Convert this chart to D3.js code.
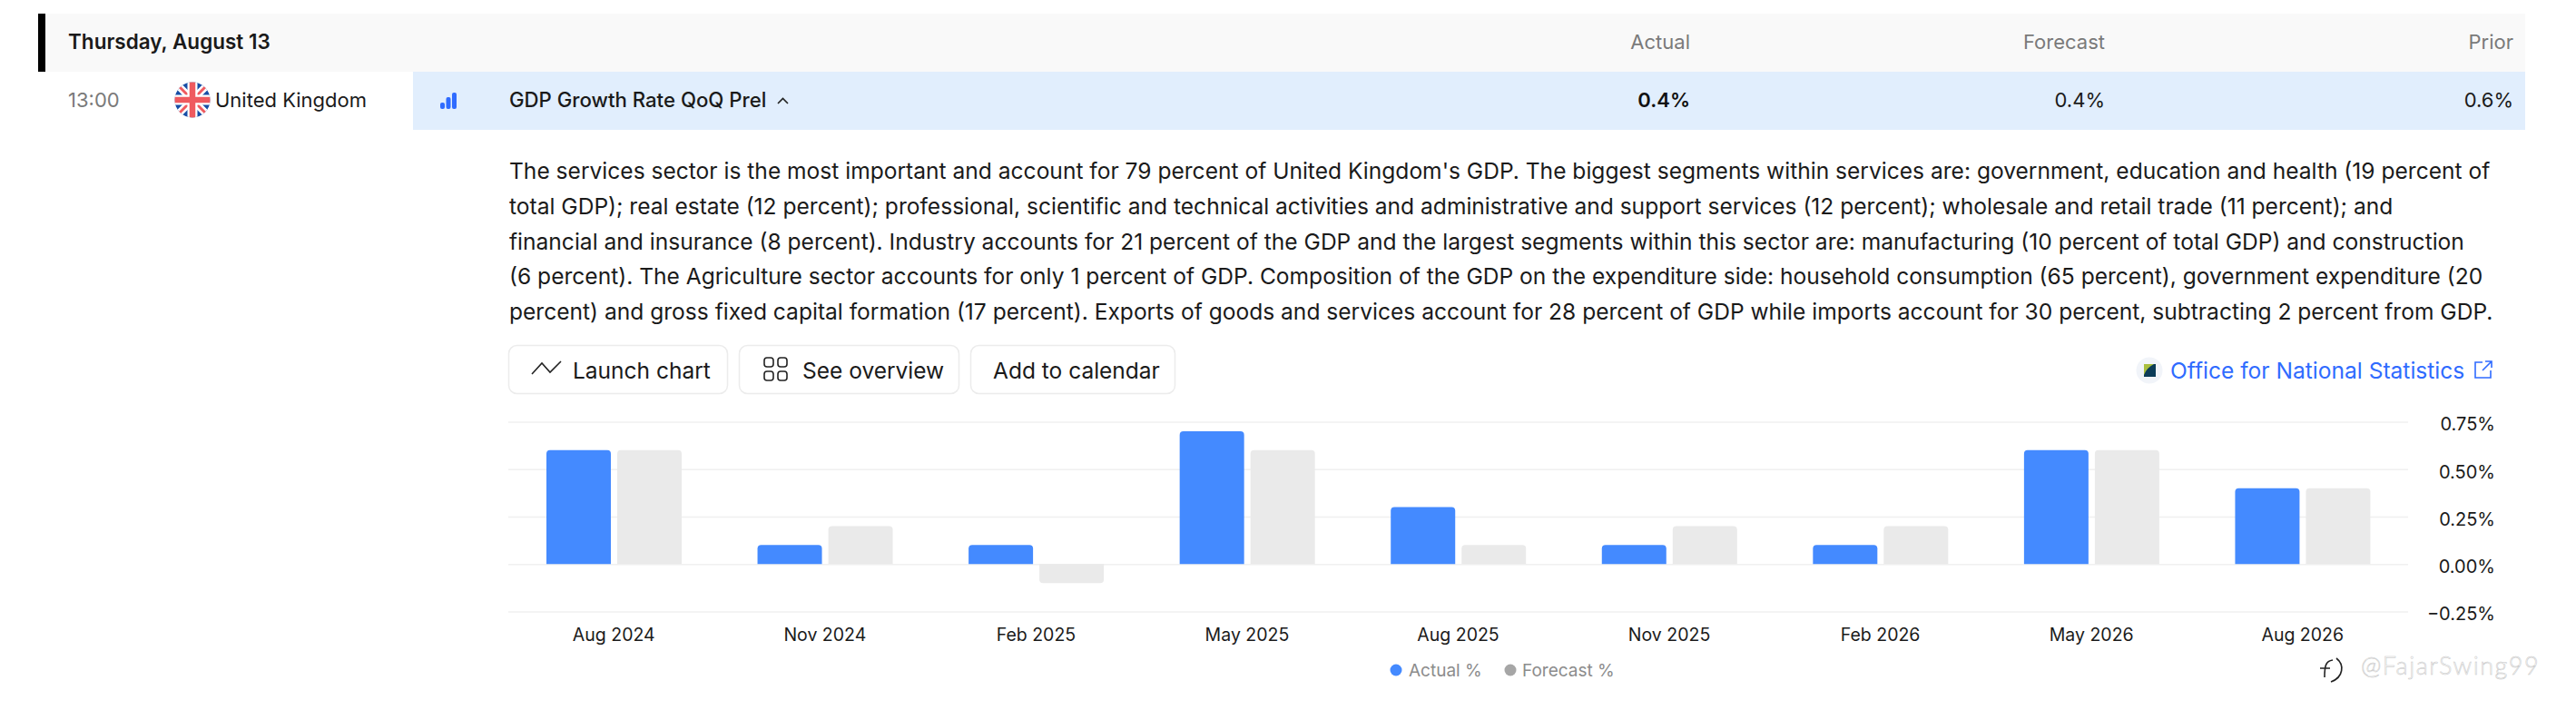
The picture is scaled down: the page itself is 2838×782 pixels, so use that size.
<!DOCTYPE html>
<html>
<head>
<meta charset="utf-8">
<script src="https://cdn.jsdelivr.net/npm/d3@7"></script>
<style>
    html, body { margin: 0; padding: 0; background: #fff; overflow: hidden; }
    text { font-family: Inter, "Noto Sans", sans-serif; }
</style>
</head>
<body>
<div id="calendar"></div>
<script>
// Chart data
var periods = ["Aug 2024", "Nov 2024", "Feb 2025", "May 2025", "Aug 2025", "Nov 2025", "Feb 2026", "May 2026", "Aug 2026"];
var actual = [0.6, 0.1, 0.1, 0.7, 0.3, 0.1, 0.1, 0.6, 0.4];
var forecast = [0.6, 0.2, -0.1, 0.6, 0.1, 0.2, 0.2, 0.6, 0.4];
var yTicks = [-0.25, 0, 0.25, 0.5, 0.75];
var seriesNames = ["Actual %", "Forecast %"];

// Page text
var description = [
    "The services sector is the most important and account for 79 percent of United Kingdom's GDP. The biggest segments within services are: government, education and health (19 percent of",
    "total GDP); real estate (12 percent); professional, scientific and technical activities and administrative and support services (12 percent); wholesale and retail trade (11 percent); and",
    "financial and insurance (8 percent). Industry accounts for 21 percent of the GDP and the largest segments within this sector are: manufacturing (10 percent of total GDP) and construction",
    "(6 percent). The Agriculture sector accounts for only 1 percent of GDP. Composition of the GDP on the expenditure side: household consumption (65 percent), government expenditure (20",
    "percent) and gross fixed capital formation (17 percent). Exports of goods and services account for 28 percent of GDP while imports account for 30 percent, subtracting 2 percent from GDP."
];

var blue = "#448aff";
var grey = "#eaeaea";
var link = "#2f6bff";

var svg = d3.select("#calendar")
    .append("svg")
    .attr("width", 2838)
    .attr("height", 782)
    .style("display", "block");

function label(x, y, str, size, fill, anchor, weight) {
    return svg.append("text")
        .attr("x", x)
        .attr("y", y)
        .attr("text-anchor", anchor || "start")
        .style("font-size", size + "px")
        .style("font-weight", weight || 400)
        .style("fill", fill)
        .text(str);
}

// Header band and selected row
svg.append("rect").attr("x", 42).attr("y", 15).attr("width", 2740).attr("height", 64).attr("fill", "#f9f9f9");
svg.append("rect").attr("x", 42).attr("y", 15).attr("width", 8).attr("height", 64).attr("fill", "#000");
svg.append("rect").attr("x", 455).attr("y", 79).attr("width", 2327).attr("height", 64).attr("fill", "#e1eefd");

label(75, 54, "Thursday, August 13", 22.5, "#1a1a1a", "start", 600);
label(1862, 54, "Actual", 22, "#7a7a7a", "end");
label(2319, 54, "Forecast", 22, "#7a7a7a", "end");
label(2769, 54, "Prior", 22, "#7a7a7a", "end");

label(75, 118, "13:00", 22, "#7a7a7a");
label(237, 118, "United Kingdom", 22, "#1a1a1a");
label(561, 118, "GDP Growth Rate QoQ Prel", 22.2, "#1a1a1a", "start", 500);
label(1862, 118, "0.4%", 22, "#111", "end", 600);
label(2319, 118, "0.4%", 22, "#1a1a1a", "end");
label(2769, 118, "0.6%", 22, "#1a1a1a", "end");

// Flag
var clip = svg.append("clipPath").attr("id", "flagClip");
clip.append("circle").attr("cx", 212).attr("cy", 110).attr("r", 19.5);
var flag = svg.append("g").attr("clip-path", "url(#flagClip)");
flag.append("rect").attr("x", 192).attr("y", 90).attr("width", 40).attr("height", 40).attr("fill", "#174ea6");
flag.append("path").attr("d", "M192 90L232 130M232 90L192 130").attr("stroke", "#fff").attr("stroke-width", 8);
flag.append("path").attr("d", "M192 90L232 130M232 90L192 130").attr("stroke", "#ef5a5f").attr("stroke-width", 3);
flag.append("path").attr("d", "M212 90V130M192 110H232").attr("stroke", "#fff").attr("stroke-width", 11);
flag.append("path").attr("d", "M212 90V130M192 110H232").attr("stroke", "#ef5a5f").attr("stroke-width", 6.5);

// Small bars icon and chevron in the selected row
[[485, 113, 5], [491.5, 107, 5], [498, 102, 5]].forEach(function (b) {
    svg.append("rect").attr("x", b[0]).attr("y", b[1]).attr("width", b[2]).attr("height", 120 - b[1])
        .attr("rx", 2).attr("fill", link);
});
svg.append("path").attr("d", "M857 114L862.5 108.5L868 114").attr("fill", "none").attr("stroke", "#222").attr("stroke-width", 1.6);

// Description
description.forEach(function (line, i) {
    label(561, 197 + i * 38.75, line, 24.57, "#1a1a1a");
});

// Buttons
[[560, 241], [814, 242], [1069, 225]].forEach(function (b) {
    svg.append("rect").attr("x", b[0] + 0.5).attr("y", 380.5).attr("width", b[1]).attr("height", 53)
        .attr("rx", 9).attr("fill", "#fff").attr("stroke", "#ececec").attr("stroke-width", 1.5);
});
label(631, 417, "Launch chart", 24.5, "#1a1a1a");
label(884, 417, "See overview", 24.5, "#1a1a1a");
label(1094, 417, "Add to calendar", 24.5, "#1a1a1a");
svg.append("path").attr("d", "M586 412L597 400L606 410L618 398").attr("fill", "none").attr("stroke", "#222").attr("stroke-width", 1.6);
[[842, 394], [857, 394], [842, 409], [857, 409]].forEach(function (p) {
    svg.append("rect").attr("x", p[0]).attr("y", p[1]).attr("width", 10).attr("height", 10).attr("rx", 3)
        .attr("fill", "none").attr("stroke", "#222").attr("stroke-width", 1.6);
});

// Source link
svg.append("circle").attr("cx", 2368).attr("cy", 408).attr("r", 14.5).attr("fill", "#f1f4f9");
svg.append("rect").attr("x", 2362).attr("y", 401).attr("width", 13).attr("height", 14).attr("fill", "#0c3c58");
svg.append("path").attr("d", "M2362 401H2373Q2365 405 2362 413Z").attr("fill", "#a9be3e");
label(2391, 417, "Office for National Statistics", 24.57, link);
svg.append("path").attr("d", "M2735 399H2727V416H2744V408M2735 408L2745 398M2738 398H2745V405")
    .attr("fill", "none").attr("stroke", link).attr("stroke-width", 1.6);

// Chart scales
var x0 = d3.scaleBand().domain(periods).range([560, 2653]);
var x1 = d3.scaleBand().domain(seriesNames).range([42, 191]).paddingInner(0.09);
var y = d3.scaleLinear().domain([-0.25, 0.75]).range([673.5, 464.5]);

// Gridlines and y labels
var yAxis = d3.axisRight(y)
    .tickValues(yTicks)
    .tickSize(2653 - 560)
    .tickPadding(96)
    .tickFormat(function (d) { return d3.format(".2f")(d) + "%"; });

var yG = svg.append("g")
    .attr("transform", "translate(560,0)")
    .call(yAxis);
yG.select(".domain").remove();
yG.selectAll(".tick line").attr("stroke", "#f0f0f0").attr("stroke-width", 1.5);
yG.selectAll(".tick text")
    .attr("text-anchor", "end")
    .attr("x", 2749 - 560)
    .attr("dy", "0.62em")
    .attr("y", -3)
    .style("font-size", "20px")
    .style("font-family", "Inter, sans-serif")
    .style("fill", "#1a1a1a");

// Month labels
var xAxis = d3.axisBottom(x0).tickSize(0).tickPadding(14);
var xG = svg.append("g")
    .attr("transform", "translate(0,678)")
    .call(xAxis);
xG.select(".domain").remove();
xG.selectAll(".tick text")
    .style("font-size", "19.5px")
    .style("font-family", "Inter, sans-serif")
    .style("fill", "#1a1a1a");

// Bars, rounded at the end away from zero
function barPath(px, w, v) {
    var y0 = y(0), yv = y(v), r = 4, dir = v >= 0 ? 1 : -1;
    return "M" + px + "," + y0 +
        "V" + (yv + dir * r) +
        "Q" + px + "," + yv + " " + (px + r) + "," + yv +
        "H" + (px + w - r) +
        "Q" + (px + w) + "," + yv + " " + (px + w) + "," + (yv + dir * r) +
        "V" + y0 + "Z";
}

var groups = svg.selectAll(".period")
    .data(periods)
    .enter()
    .append("g")
    .attr("class", "period")
    .attr("transform", function (d) { return "translate(" + x0(d) + ",0)"; });

groups.append("path")
    .attr("fill", blue)
    .attr("d", function (d, i) { return barPath(x1(seriesNames[0]), x1.bandwidth(), actual[i]); });

groups.append("path")
    .attr("fill", grey)
    .attr("d", function (d, i) { return barPath(x1(seriesNames[1]), x1.bandwidth(), forecast[i]); });

// Legend
svg.append("circle").attr("cx", 1538).attr("cy", 738).attr("r", 6.5).attr("fill", blue);
label(1552, 745, seriesNames[0], 19, "#8c8c8c");
svg.append("circle").attr("cx", 1664).attr("cy", 738).attr("r", 6.5).attr("fill", "#a6a6a6");
label(1677, 745, seriesNames[1], 19, "#8c8c8c");

// Watermark
svg.append("path")
    .attr("d", "M2570 727C2562 728 2561 734 2561 746M2556 736H2567M2574 725C2583 732 2582 746 2568 751")
    .attr("fill", "none").attr("stroke", "#222").attr("stroke-width", 1.6);
label(2601, 743, "@FajarSwing99", 27, "#fff", "start", 300)
    .style("font-family", "Lato, sans-serif")
    .style("letter-spacing", "1.5px")
    .style("stroke", "#c4c4c4")
    .style("stroke-width", 0.5);
</script>
</body>
</html>
